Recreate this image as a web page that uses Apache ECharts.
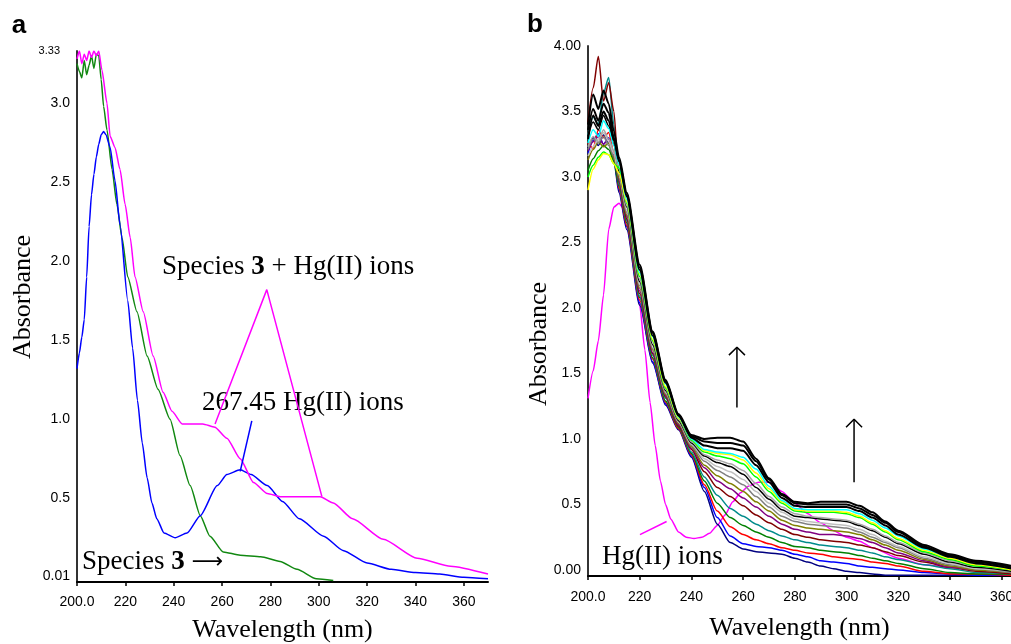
<!DOCTYPE html>
<html>
<head>
<meta charset="utf-8">
<script src="https://cdn.jsdelivr.net/npm/echarts@6/dist/echarts.min.js"></script>
<style>html,body{margin:0;padding:0;background:#fff}#c{width:1011px;height:644px}</style>
</head>
<body>
<div id="c"></div>
<script>
// ---------- Panel a ----------
const A_X_TICKS = [200, 220, 240, 260, 280, 300, 320, 340, 360];
const A_Y_TICKS = [0.01, 0.5, 1.0, 1.5, 2.0, 2.5, 3.0, 3.33];

// Hg(II) ions (blue)
const A_HG_X = [200,201,202,203,204,205,206,207,208,209,210,211,212,213.7,215.7,217.8,221,223,225,227,229,231,233,236,240.6,245.5,251,258,262,267.5,272,278.7,285,292,302,310,320,330,340,350,360,370];
const A_HG_Y = [1.32,1.42,1.52,1.63,1.90,2.22,2.42,2.55,2.66,2.74,2.80,2.82,2.80,2.72,2.51,2.23,1.75,1.45,1.12,0.85,0.63,0.47,0.37,0.28,0.25,0.28,0.39,0.58,0.65,0.68,0.65,0.58,0.48,0.37,0.26,0.17,0.09,0.05,0.03,0.02,0.00,-0.01];
// Species 3 (green)
const A_S3_X = [200,201,202,203,204,205,206,207,208,209,210,211,212.4,214.5,216.5,218.6,221,224.8,229,233.5,238.5,242.6,246.8,251,255,260.5,267.5,276,284,291,299,306];
const A_S3_Y = [3.25,3.20,3.16,3.27,3.18,3.24,3.30,3.22,3.31,3.30,3.15,2.98,2.83,2.58,2.36,2.15,1.90,1.68,1.40,1.19,1.00,0.77,0.58,0.39,0.26,0.16,0.14,0.13,0.10,0.05,-0.01,-0.02];
// Species 3 + Hg(II) ions (magenta)
const A_MIX_X = [200,201,202,203,204,205,206,207,208,209,210.3,212.4,213.7,215.7,217.8,219.9,222,224,227.4,231.5,235.6,239.3,243.5,252,257,262,267.5,273,278.7,284,300.6,306,314,326.7,340.7,354.5,370];
const A_MIX_Y = [3.28,3.33,3.25,3.31,3.27,3.33,3.29,3.33,3.30,3.33,3.21,3.00,2.79,2.72,2.58,2.36,2.15,1.90,1.68,1.40,1.17,1.05,0.97,0.97,0.95,0.88,0.75,0.60,0.53,0.51,0.51,0.47,0.37,0.24,0.12,0.07,0.02];
// label pointer lines (data coordinates)
const A_MIX_PTR_X = [257.1, 278.5, 301.3];
const A_MIX_PTR_Y = [0.97, 1.82, 0.51];
const A_HG_PTR_X = [267.5, 272.3];
const A_HG_PTR_Y = [0.67, 0.99];

// ---------- Panel b ----------
const B_X_TICKS = [200, 220, 240, 260, 280, 300, 320, 340, 360];
const B_Y_TICKS = [0, 0.5, 1.0, 1.5, 2.0, 2.5, 3.0, 3.5, 4.0];

const B_HG_X = [200,202,204,206,208,210,212,214,216,218,220,222,224,226,228,230,232,235,238,241,244,247,250,253,256,259,262,266,270,275,280,285,290,295,300,305,310,320,330,340,350,364];
const B_HG_Y = [1.31,1.52,1.75,2.10,2.60,2.77,2.80,2.75,2.58,2.33,2.02,1.68,1.28,0.95,0.68,0.50,0.39,0.29,0.25,0.24,0.25,0.28,0.34,0.42,0.52,0.59,0.64,0.67,0.67,0.60,0.51,0.43,0.36,0.30,0.25,0.22,0.17,0.09,0.04,0.02,0.01,0.00];
const B_HG_PTR_X = [220.1, 230.4];
const B_HG_PTR_Y = [0.27, 0.37];

// titration family: shared wavelengths
const B_X = [200,202,204,206,208,210,212,215,220,225,230,235,240,245,250,255,260,265,270,275,280,285,290,295,300,305,310,315,320,330,340,350,364];
const B_NAVY   = [3.22,3.30,3.24,3.32,3.26,3.12, 2.88,2.60,2.02,1.58,1.26,1.07, 0.86,0.60,0.35,0.21,0.16,0.14,0.13,0.12,0.09,0.06,0.03,0.01,-0.01,-0.02,-0.03,-0.04,-0.04,-0.04,-0.04,-0.04,-0.04];
const B_BLUE   = [3.18,3.28,3.33,3.25,3.30,3.15, 2.90,2.62,2.04,1.59,1.27,1.08, 0.87,0.63,0.40,0.26,0.20,0.18,0.17,0.15,0.12,0.10,0.07,0.06,0.05,0.03,0.02,0.01,0.00,-0.02,-0.03,-0.04,-0.04];
const B_RED    = [3.26,3.22,3.36,3.30,3.34,3.18, 2.91,2.63,2.06,1.61,1.28,1.08, 0.88,0.65,0.45,0.33,0.27,0.23,0.20,0.17,0.15,0.13,0.12,0.10,0.09,0.08,0.06,0.05,0.03,-0.01,-0.03,-0.03,-0.04];
const B_GREEN  = [3.05,3.14,3.20,3.24,3.21,3.12, 2.93,2.65,2.08,1.62,1.29,1.09, 0.89,0.68,0.51,0.40,0.34,0.29,0.25,0.21,0.18,0.17,0.15,0.14,0.13,0.11,0.09,0.07,0.05,0.01,-0.02,-0.03,-0.03];
const B_TEAL   = [3.32,3.46,3.40,3.64,3.76,3.40, 2.94,2.67,2.09,1.64,1.31,1.10, 0.90,0.71,0.57,0.47,0.41,0.35,0.30,0.26,0.23,0.21,0.19,0.18,0.17,0.15,0.13,0.10,0.08,0.04,0.01,-0.02,-0.03];
const B_MAROON = [3.42,3.68,3.92,3.58,3.72,3.50, 2.96,2.68,2.11,1.65,1.32,1.10, 0.92,0.75,0.63,0.56,0.49,0.42,0.36,0.31,0.27,0.25,0.23,0.22,0.21,0.19,0.17,0.14,0.11,0.06,0.02,-0.01,-0.03];
const B_PURPLE = [3.20,3.27,3.31,3.25,3.29,3.16, 2.97,2.70,2.13,1.66,1.33,1.11, 0.93,0.78,0.68,0.62,0.55,0.48,0.41,0.35,0.31,0.29,0.27,0.27,0.26,0.24,0.21,0.17,0.13,0.07,0.02,0.00,-0.02];
const B_OLIVE  = [3.13,3.21,3.27,3.23,3.26,3.14, 2.99,2.71,2.15,1.68,1.34,1.12, 0.94,0.80,0.72,0.66,0.60,0.52,0.45,0.38,0.34,0.32,0.31,0.30,0.29,0.27,0.23,0.19,0.15,0.08,0.03,0.00,-0.02];
const B_GRAY   = [3.21,3.29,3.26,3.31,3.24,3.16, 3.01,2.73,2.17,1.69,1.35,1.13, 0.95,0.83,0.76,0.71,0.65,0.56,0.48,0.41,0.37,0.35,0.34,0.33,0.32,0.29,0.25,0.21,0.17,0.09,0.04,0.01,-0.02];
const B_SILVER = [3.16,3.23,3.29,3.34,3.27,3.18, 3.02,2.75,2.18,1.71,1.36,1.13, 0.96,0.85,0.79,0.75,0.69,0.60,0.51,0.44,0.39,0.37,0.36,0.35,0.34,0.31,0.27,0.22,0.18,0.10,0.05,0.01,-0.01];
const B_BLACK1 = [3.31,3.42,3.36,3.47,3.39,3.25, 3.04,2.77,2.20,1.72,1.37,1.14, 0.97,0.87,0.82,0.79,0.73,0.63,0.54,0.46,0.41,0.40,0.39,0.38,0.37,0.34,0.30,0.25,0.20,0.12,0.06,0.02,-0.01];
const B_GRAY2  = [3.23,3.31,3.27,3.36,3.29,3.20, 3.06,2.78,2.22,1.74,1.38,1.15, 0.98,0.88,0.84,0.81,0.76,0.66,0.56,0.48,0.43,0.41,0.40,0.39,0.38,0.35,0.31,0.26,0.21,0.13,0.07,0.03,0.00];
const B_LIME   = [3.00,3.09,3.15,3.19,3.17,3.10, 3.07,2.80,2.24,1.75,1.39,1.16, 0.99,0.90,0.87,0.85,0.81,0.71,0.60,0.51,0.45,0.44,0.44,0.44,0.43,0.40,0.35,0.29,0.23,0.14,0.08,0.03,0.00];
const B_YELLOW = [2.90,3.06,3.13,3.18,3.17,3.10, 3.03,2.81,2.26,1.76,1.40,1.16, 1.00,0.91,0.89,0.88,0.84,0.74,0.62,0.52,0.46,0.45,0.45,0.45,0.44,0.41,0.36,0.30,0.24,0.15,0.09,0.04,0.00];
const B_CYAN   = [3.26,3.36,3.31,3.43,3.37,3.24, 3.10,2.83,2.27,1.78,1.42,1.17, 1.00,0.92,0.90,0.89,0.86,0.77,0.64,0.53,0.47,0.46,0.46,0.46,0.46,0.43,0.38,0.32,0.26,0.16,0.10,0.05,0.01];
const B_BLACK2 = [3.36,3.52,3.43,3.56,3.49,3.30, 3.12,2.85,2.29,1.79,1.43,1.18, 1.01,0.95,0.93,0.93,0.91,0.80,0.67,0.55,0.49,0.48,0.48,0.48,0.48,0.45,0.40,0.34,0.27,0.17,0.10,0.05,0.01];
const B_BLACK3 = [3.29,3.47,3.39,3.50,3.43,3.28, 3.13,2.86,2.31,1.81,1.44,1.18, 1.02,0.98,0.97,0.97,0.95,0.83,0.69,0.57,0.51,0.50,0.50,0.50,0.50,0.47,0.42,0.36,0.29,0.18,0.11,0.06,0.02];
const B_BLACK4 = [3.40,3.63,3.52,3.66,3.56,3.35, 3.15,2.88,2.33,1.82,1.45,1.19, 1.03,1.00,1.01,1.01,0.98,0.85,0.70,0.58,0.52,0.51,0.52,0.52,0.52,0.49,0.44,0.37,0.30,0.19,0.12,0.07,0.03];

// arrows (data coordinates: wavelength, absorbance from/to)
const B_ARROW1_X = 257.6, B_ARROW1_Y = [1.24, 1.70];
const B_ARROW2_X = 302.9, B_ARROW2_Y = [0.67, 1.15];

// ---------- build ----------
const zip = (xs, ys) => xs.map((x, i) => [x, ys[i]]);
const SERIF = 'Liberation Serif';
const SANS = 'Liberation Sans';

function line(xi, data, color, smooth, width) {
  return {
    type: 'line', xAxisIndex: xi, yAxisIndex: xi, data: data,
    showSymbol: false, symbol: 'none', silent: true,
    smooth: smooth, smoothMonotone: 'x',
    lineStyle: { color: color, width: width || 1.5 }
  };
}

const family = [
  [B_NAVY, '#000080', 1.5], [B_BLUE, '#0000ff', 1.5], [B_RED, '#ff0000', 1.5], [B_GREEN, '#008000', 1.5],
  [B_TEAL, '#008b8b', 1.5], [B_MAROON, '#800000', 1.5], [B_PURPLE, '#800080', 1.5], [B_OLIVE, '#808000', 1.5],
  [B_GRAY, '#808080', 1.5], [B_SILVER, '#c0c0c0', 1.5], [B_BLACK1, '#000000', 1.5], [B_GRAY2, '#a6a6a6', 1.5],
  [B_LIME, '#00ff00', 1.5], [B_YELLOW, '#ffff00', 1.5], [B_CYAN, '#00ffff', 1.5], [B_BLACK2, '#000000', 2],
  [B_BLACK3, '#000000', 2], [B_BLACK4, '#000000', 2]
];

function arrow(x, ys) {
  const h = 0.06, w = 3.1;
  return [
    line(1, [[x, ys[0]], [x, ys[1]]], '#000', false, 1.5),
    line(1, [[x - w, ys[1] - h], [x, ys[1]], [x + w, ys[1] - h]], '#000', false, 1.5)
  ];
}

const series = [
  line(0, zip(A_S3_X, A_S3_Y), '#118811', 0.2),
  line(0, zip(A_HG_X, A_HG_Y), '#0000ff', 0.2),
  line(0, zip(A_MIX_X, A_MIX_Y), '#ff00ff', 0.2),
  line(0, zip(A_MIX_PTR_X, A_MIX_PTR_Y), '#ff00ff', false),
  line(0, zip(A_HG_PTR_X, A_HG_PTR_Y), '#0000ff', false),
  line(1, zip(B_HG_X, B_HG_Y), '#ff00ff', 0.2),
  line(1, zip(B_HG_PTR_X, B_HG_PTR_Y), '#ff00ff', false)
];
family.forEach(f => series.push(line(1, zip(B_X, f[0]), f[1], 0.25, f[2])));
arrow(B_ARROW1_X, B_ARROW1_Y).forEach(s => series.push(s));
arrow(B_ARROW2_X, B_ARROW2_Y).forEach(s => series.push(s));

const tickLabel = { color: '#000', fontSize: 14, fontFamily: SANS };
function xAxis(gi, min, max, ticks, margin, gap) {
  return {
    gridIndex: gi, type: 'value', min: min, max: max,
    axisLine: { onZero: false, lineStyle: { color: '#000', width: 2 } },
    axisTick: { show: true, customValues: ticks, length: 4, lineStyle: { color: '#000', width: 1.5 } },
    axisLabel: Object.assign({ customValues: ticks, margin: margin, hideOverlap: false,
      formatter: v => (v === 200 ? '200.0' : String(v)) }, tickLabel),
    splitLine: { show: false },
    name: 'Wavelength (nm)', nameLocation: 'middle', nameGap: gap,
    nameTextStyle: { fontFamily: SERIF, fontSize: 26, color: '#000' }
  };
}

const RICH = {
  n: { fontFamily: SERIF, fontSize: 27, fill: '#000' },
  b: { fontFamily: SERIF, fontSize: 27, fontWeight: 'bold', fill: '#000' },
  ar: { fontFamily: 'DejaVu Sans', fontSize: 22, fill: '#000' }
};

const option = {
  animation: false,
  backgroundColor: '#fff',
  grid: [
    { left: 77, top: 51, right: 523, bottom: 62, containLabel: false, outerBoundsMode: 'none' },
    { left: 588, top: 46, right: 0, bottom: 68, containLabel: false, outerBoundsMode: 'none' }
  ],
  xAxis: [ xAxis(0, 200, 370, A_X_TICKS, 13, 35), xAxis(1, 200, 363.6, B_X_TICKS, 14, 39) ],
  yAxis: [
    {
      gridIndex: 0, type: 'value', min: -0.03, max: 3.33,
      axisLine: { show: true, onZero: false, lineStyle: { color: '#333', width: 2 } },
      axisTick: { show: false },
      axisLabel: Object.assign({ customValues: A_Y_TICKS, margin: 7,
        formatter: v => (v === 3.33 ? '{s|3.33}' : v === 0.01 ? '0.01' : v.toFixed(1)),
        rich: { s: { fontSize: 11, fontFamily: SANS, color: '#000', padding: [0, 10, 0, 0] } } }, tickLabel),
      splitLine: { show: false }
    },
    {
      gridIndex: 1, type: 'value', min: -0.046, max: 4.0,
      axisLine: { show: true, onZero: false, lineStyle: { color: '#333', width: 2 } },
      axisTick: { show: false },
      axisLabel: Object.assign({ customValues: B_Y_TICKS, margin: 7,
        formatter: v => (v === 0 ? '0.00' : v === 4 ? '4.00' : v.toFixed(1)) }, tickLabel),
      splitLine: { show: false }
    }
  ],
  graphic: [
    { type: 'text', x: 19, y: 26, style: { text: 'a', fontFamily: SANS, fontWeight: 'bold', fontSize: 26, fill: '#000', align: 'center', verticalAlign: 'middle' } },
    { type: 'text', x: 535, y: 25, style: { text: 'b', fontFamily: SANS, fontWeight: 'bold', fontSize: 26, fill: '#000', align: 'center', verticalAlign: 'middle' } },
    { type: 'text', x: 23, y: 297, rotation: Math.PI / 2, style: { text: 'Absorbance', fontFamily: SERIF, fontSize: 26, fill: '#000', align: 'center', verticalAlign: 'middle' } },
    { type: 'text', x: 539, y: 344, rotation: Math.PI / 2, style: { text: 'Absorbance', fontFamily: SERIF, fontSize: 26, fill: '#000', align: 'center', verticalAlign: 'middle' } },
    { type: 'text', x: 162, y: 267, style: { text: '{n|Species }{b|3}{n| + Hg(II) ions}', fill: '#000', align: 'left', verticalAlign: 'middle', rich: RICH } },
    { type: 'text', x: 202, y: 403, style: { text: '267.45 Hg(II) ions', fontFamily: SERIF, fontSize: 27, fill: '#000', align: 'left', verticalAlign: 'middle' } },
    { type: 'text', x: 82, y: 562, style: { text: '{n|Species }{b|3}{ar| \u27F6}', fill: '#000', align: 'left', verticalAlign: 'middle', rich: RICH } },
    { type: 'text', x: 602, y: 557, style: { text: 'Hg(II) ions', fontFamily: SERIF, fontSize: 27, fill: '#000', align: 'left', verticalAlign: 'middle' } }
  ],
  series: series
};

const chart = echarts.init(document.getElementById('c'), null, { renderer: 'canvas' });
chart.setOption(option);
</script>
</body>
</html>
